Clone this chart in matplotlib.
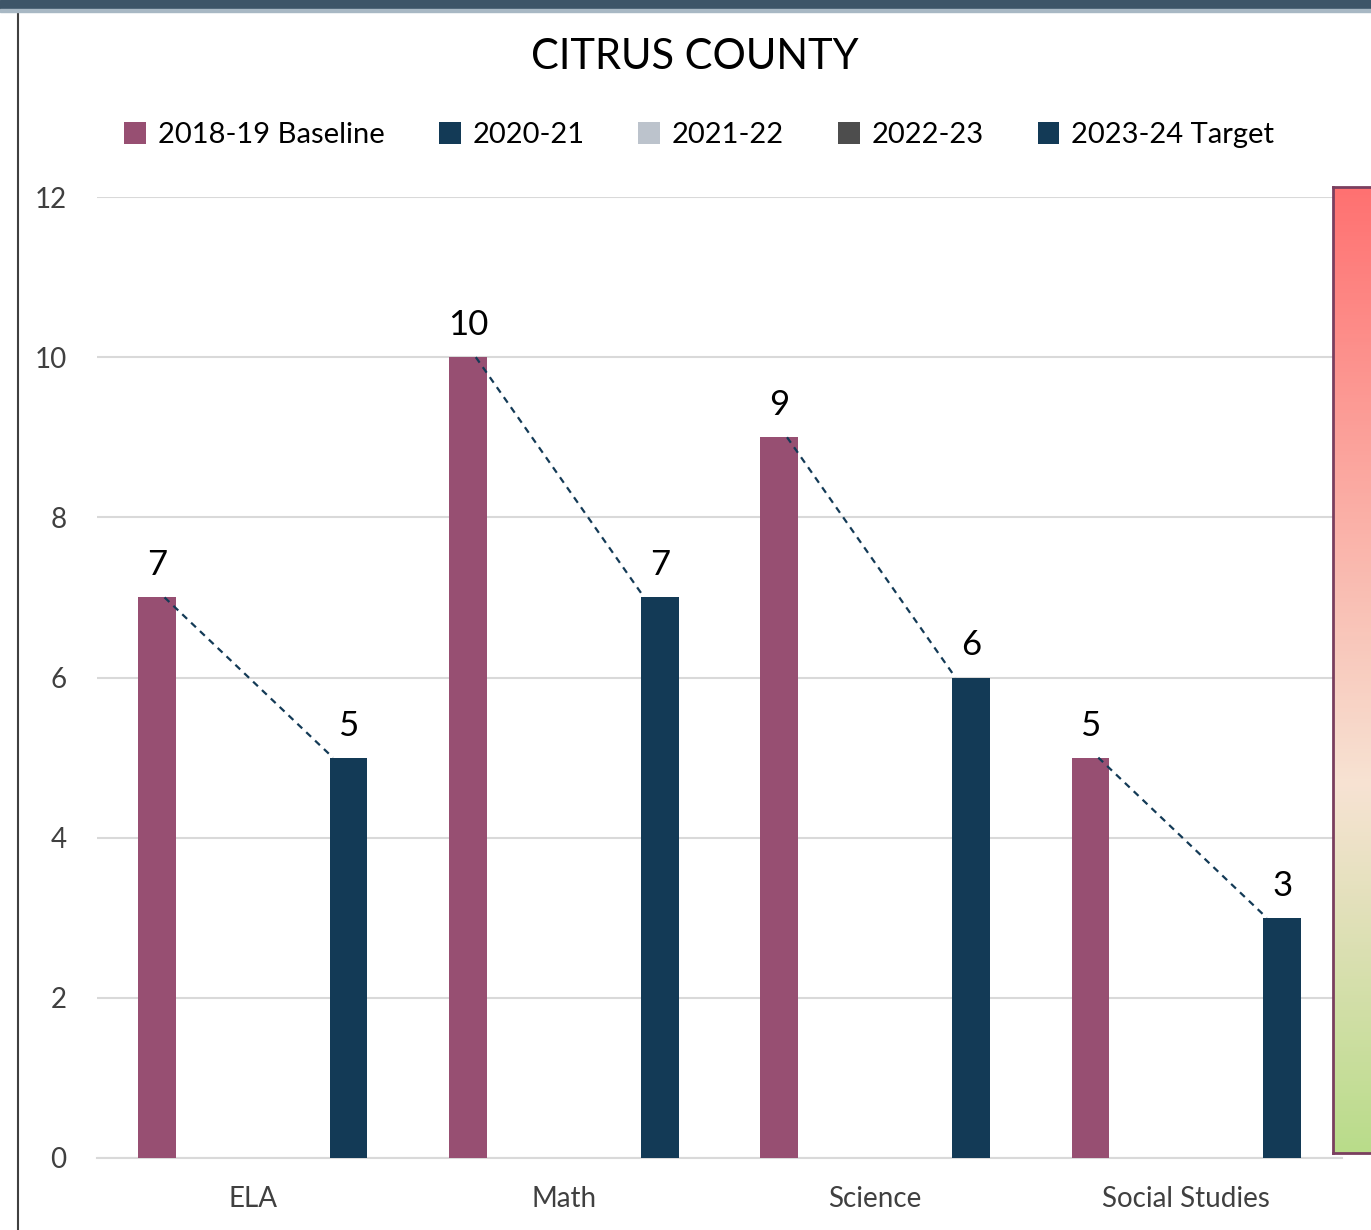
import matplotlib.pyplot as plt
import numpy as np
from matplotlib.colors import LinearSegmentedColormap
from matplotlib.patches import Rectangle

subjects = ['ELA', 'Math', 'Science', 'Social Studies']
series = ['2018-19 Baseline', '2020-21', '2021-22', '2022-23', '2023-24 Target']
baseline = [7, 10, 9, 5]
target = [5, 7, 6, 3]
colors = ['#974F72', '#133A56', '#BCC3CC', '#4D4D4D', '#133A56']

plt.rcParams['font.family'] = ['Lato', 'DejaVu Sans']

fig = plt.figure(figsize=(13.71, 12.3), dpi=100)
ax = fig.add_axes([97 / 1371, 72 / 1230, 1245 / 1371, 961 / 1230])

x = np.arange(len(subjects))
slot = 0.154
bw = 0.122

# baseline + target bars, middle series are empty
for i, name in enumerate(series):
    off = (i - 2) * slot
    if i == 0:
        vals = baseline
    elif i == 4:
        vals = target
    else:
        vals = [0] * len(subjects)
        ax.bar(x + off, vals, bw, color=colors[i], label=name)
        continue
    ax.bar(x + off, vals, bw, color=colors[i], label=name, zorder=3)
    for xi, v in zip(x, vals):
        ax.text(xi + off, v + 0.2, str(v), ha='center', va='bottom',
                fontsize=25, color='black', zorder=5)

# dashed connectors
for xi, b, t in zip(x, baseline, target):
    ax.plot([xi - 2 * slot + 0.025, xi + 2 * slot - 0.05], [b, t],
            ls=(0, (3, 2.5)), color='#133A56', lw=1.6, zorder=4)

ax.set_xlim(-0.5, 3.5)
ax.set_ylim(0, 12)
ax.set_yticks(range(0, 13, 2))
ax.set_xticks(x)
ax.set_xticklabels(subjects)
ax.tick_params(axis='both', length=0, labelsize=20, labelcolor='#404040')
ax.tick_params(axis='y', pad=22)
ax.tick_params(axis='x', pad=20)
ax.grid(axis='y', color='#D9D9D9', lw=1.5, zorder=0)
for s in ['top', 'right', 'left']:
    ax.spines[s].set_visible(False)
ax.spines['bottom'].set_color('#D9D9D9')
ax.spines['bottom'].set_linewidth(1.5)

leg = fig.legend(loc='center', bbox_to_anchor=(0.51, 1 - 135 / 1230), ncol=5,
                 frameon=False, fontsize=21, handlelength=0.75, handleheight=0.75,
                 handletextpad=0.4, columnspacing=1.85)

fig.text(0.507, 1 - 57 / 1230, 'CITRUS COUNTY', ha='center', va='center',
         fontsize=30)

# gradient rect at right edge
gax = fig.add_axes([1333 / 1371, 77 / 1230, 50 / 1371, 966 / 1230], zorder=6)
cmap = LinearSegmentedColormap.from_list(
    'g', [(0, '#B9DC8A'), (0.38, '#F7E3D3'), (1, '#FF7171')])
gax.imshow(np.linspace(0, 1, 256).reshape(-1, 1), aspect='auto', cmap=cmap,
           origin='lower', extent=[0, 1, 0, 1])
gax.set_xticks([])
gax.set_yticks([])
for s in gax.spines.values():
    s.set_color('#7A3F5F')
    s.set_linewidth(2)

# frame bits
fig.patches.append(Rectangle((0, 1 - 9 / 1230), 1, 9 / 1230, transform=fig.transFigure,
                             color='#3D5568', zorder=10))
fig.patches.append(Rectangle((0, 1 - 12 / 1230), 1, 3 / 1230, transform=fig.transFigure,
                             color='#A8B8C4', zorder=10))
fig.add_artist(plt.Line2D([18 / 1371, 18 / 1371], [0, 1 - 9 / 1230],
                          transform=fig.transFigure, color='#404040', lw=1.5))

fig.savefig('out.png', dpi=100)
